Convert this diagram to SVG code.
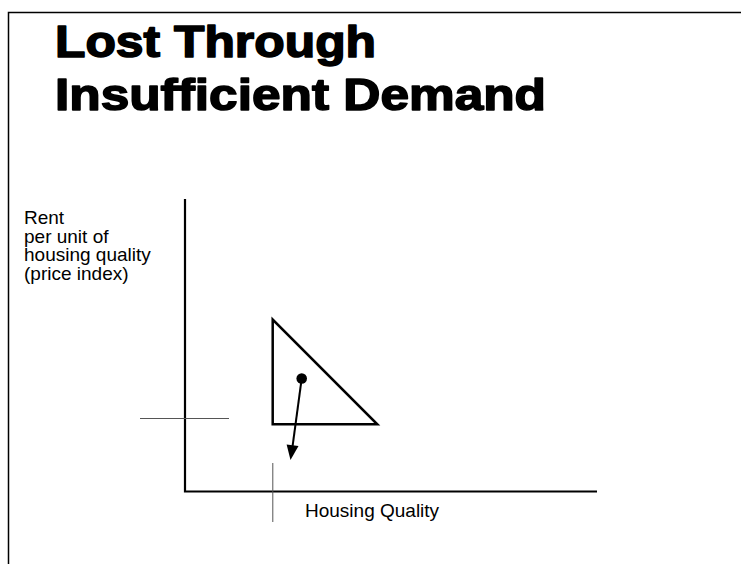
<svg xmlns="http://www.w3.org/2000/svg" width="741" height="564" viewBox="0 0 741 564">
<style>
.title{font-family:"Liberation Sans",Arial,sans-serif;font-weight:bold;font-size:45px;fill:#000;stroke:#000;stroke-width:1.6;stroke-linejoin:round}
.lbl{font-family:"Liberation Sans",Arial,sans-serif;font-size:19px;fill:#000}
.axis{stroke:#000;stroke-width:2.2;fill:none}
.thin{stroke:#555;stroke-width:1;fill:none}
.tri{stroke:#000;stroke-width:2.5;fill:none;stroke-linejoin:miter}
.conn{stroke:#000;stroke-width:2;fill:none}
.head{fill:#000;stroke:none}
</style>
<rect width="741" height="564" fill="#fff"/>
<g id="frame">
<path d="M8.5,564 V12.5 H741" stroke="#000" stroke-width="1.5" fill="none"/>
</g>
<g id="title">
<text class="title" x="55" y="57" textLength="321" lengthAdjust="spacingAndGlyphs">Lost Through</text>
<text class="title" x="55" y="110" textLength="491" lengthAdjust="spacingAndGlyphs">Insufficient Demand</text>
</g>
<g id="y-label">
<text class="lbl" x="24" y="224">Rent</text>
<text class="lbl" x="24" y="242.5">per unit of</text>
<text class="lbl" x="24" y="261">housing quality</text>
<text class="lbl" x="24" y="279.5">(price index)</text>
</g>
<g id="axes">
<path class="axis" d="M185,199 V491.5 H597"/>
</g>
<g id="x-label">
<text class="lbl" x="305" y="517">Housing Quality</text>
</g>
<g id="h-tick">
<line class="thin" x1="140" y1="418.5" x2="229" y2="418.5"/>
</g>
<g id="v-tick">
<line class="thin" x1="272.8" y1="463" x2="272.8" y2="522"/>
</g>
<g id="triangle">
<path class="tri" d="M272.7,319.5 L272.7,424.3 L377.3,424.3 Z"/>
</g>
<g id="dot">
<circle cx="301.7" cy="378.5" r="5.3" fill="#000"/>
</g>
<g id="connectors">
<line class="conn" x1="301.7" y1="378.5" x2="292.6" y2="446"/>
<path class="head" d="M290.5,460 L298.5,446 L286.6,444.4 Z"/>
</g>
</svg>
